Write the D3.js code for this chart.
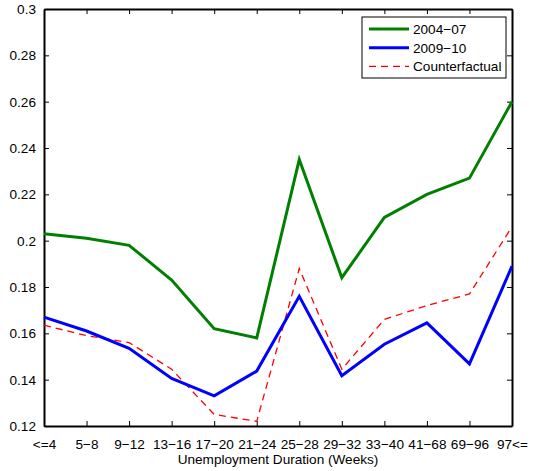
<!DOCTYPE html>
<html>
<head>
<meta charset="utf-8">
<script src="https://cdn.jsdelivr.net/npm/d3@7"></script>
<style>
  body { margin: 0; background: #fff; }
  text { font-family: "Liberation Sans", Arial, Helvetica, sans-serif; }
</style>
</head>
<body>
<div id="chart"></div>
<script>
// categories along the x axis
const durations = ["<=4", "5\u22128", "9\u221212", "13\u221216", "17\u221220", "21\u221224",
                   "25\u221228", "29\u221232", "33\u221240", "41\u221268", "69\u221296", "97<="];
// series values
const s2004_07 = [0.203, 0.201, 0.198, 0.183, 0.162, 0.158, 0.235, 0.184, 0.210, 0.220, 0.227, 0.260];
const s2009_10 = [0.167, 0.161, 0.1535, 0.1405, 0.133, 0.1437, 0.176, 0.1417, 0.1553, 0.1645, 0.1468, 0.189];
const counterfactual = [0.1635, 0.159, 0.156, 0.1445, 0.125, 0.122, 0.188, 0.1445, 0.166, 0.172, 0.177, 0.206];
const yTicks = [0.12, 0.14, 0.16, 0.18, 0.2, 0.22, 0.24, 0.26, 0.28, 0.3];

async function main_chart(width = 534, height = 471) {
  const margin = ({top: 9, right: 22, bottom: 45, left: 44});
  const fs = 13.6;

  const svg = d3.select("#chart").append("svg")
    .attr("width", width)
    .attr("height", height);

  const x = d3.scalePoint()
    .domain(durations)
    .range([margin.left, width - margin.right]);

  const y = d3.scaleLinear()
    .domain([0.12, 0.3])
    .range([height - margin.bottom, margin.top]);

  const tickLen = 5;

  // axes: MATLAB style, ticks pointing inwards on all four sides
  svg.append("g")
    .attr("transform", `translate(0,${height - margin.bottom})`)
    .call(d3.axisBottom(x).tickSizeInner(-tickLen).tickSizeOuter(0).tickPadding(tickLen + 8))
    .call(g => g.selectAll("text").attr("font-size", fs).attr("fill", "#000"));

  svg.append("g")
    .attr("transform", `translate(0,${margin.top})`)
    .call(d3.axisTop(x).tickSizeInner(-tickLen).tickSizeOuter(0).tickFormat(""));

  svg.append("g")
    .attr("transform", `translate(${margin.left},0)`)
    .call(d3.axisLeft(y).tickValues(yTicks).tickFormat(d => String(+d.toFixed(2)))
      .tickSizeInner(-tickLen).tickSizeOuter(0).tickPadding(tickLen + 3))
    .call(g => g.selectAll("text").attr("font-size", fs).attr("fill", "#000"));

  svg.append("g")
    .attr("transform", `translate(${width - margin.right},0)`)
    .call(d3.axisRight(y).tickValues(yTicks).tickFormat("")
      .tickSizeInner(-tickLen).tickSizeOuter(0));

  svg.selectAll(".domain").attr("stroke", "#000").attr("stroke-width", 2);
  svg.selectAll(".tick line").attr("stroke", "#000");

  svg.append("text")
    .attr("x", (margin.left + width - margin.right) / 2)
    .attr("y", height - 7)
    .attr("text-anchor", "middle")
    .attr("font-size", fs)
    .text("Unemployment Duration (Weeks)");

  const series = [
    {name: "2004\u221207", values: s2004_07, color: "#008000", width: 3, dash: null},
    {name: "2009\u221210", values: s2009_10, color: "#0000ff", width: 3, dash: null},
    {name: "Counterfactual", values: counterfactual, color: "#ff0000", width: 1.3, dash: "7,5"}
  ];

  const line = d3.line()
    .x((d, i) => x(durations[i]))
    .y(d => y(d));

  svg.append("g").selectAll("path")
    .data(series.slice().reverse())
    .enter()
    .append("path")
    .attr("d", d => line(d.values))
    .attr("fill", "none")
    .attr("stroke", d => d.color)
    .attr("stroke-width", d => d.width)
    .attr("stroke-dasharray", d => d.dash)
    .attr("stroke-linejoin", "miter");

  // legend
  const lg = svg.append("g").attr("transform", "translate(362,17)");
  lg.append("rect")
    .attr("width", 144).attr("height", 61)
    .attr("fill", "#fff").attr("stroke", "#000").attr("stroke-width", 1);
  series.forEach((s, i) => {
    const yy = 12 + i * 18.7;
    lg.append("line")
      .attr("x1", 7).attr("x2", 47).attr("y1", yy).attr("y2", yy)
      .attr("stroke", s.color).attr("stroke-width", s.width)
      .attr("stroke-dasharray", s.dash);
    lg.append("text")
      .attr("x", 51).attr("y", yy + 5)
      .attr("font-size", fs)
      .text(s.name);
  });

  return svg.node();
}
main_chart();
</script>
</body>
</html>
